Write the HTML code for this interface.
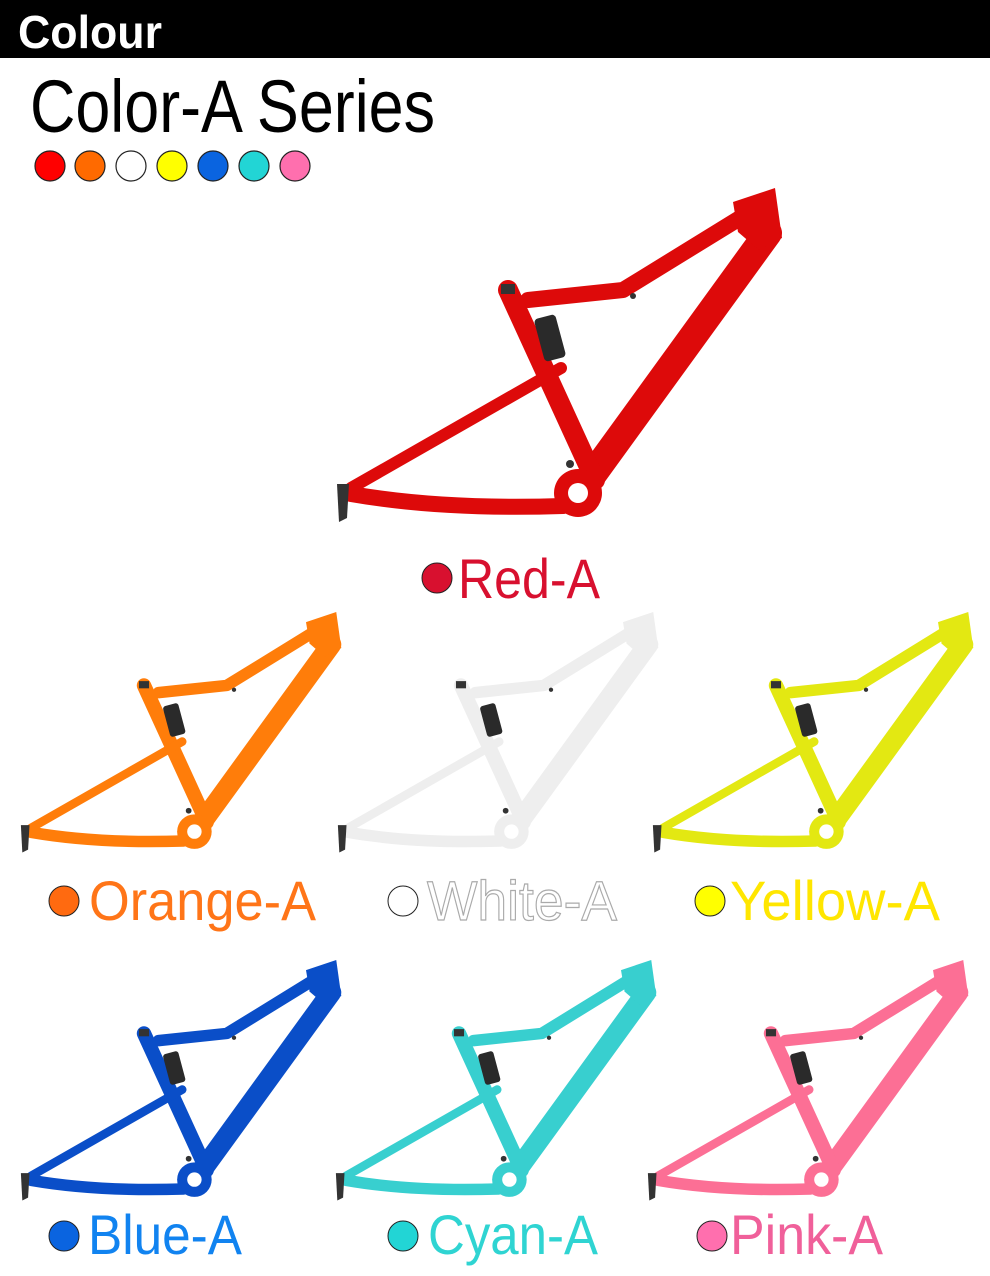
<!DOCTYPE html>
<html><head><meta charset="utf-8"><style>
body{margin:0;background:#fff;}
#root{position:relative;width:990px;height:1276px;overflow:hidden;font-family:"Liberation Sans",sans-serif;}
</style></head><body>
<div id="root">
<svg width="990" height="1276" viewBox="0 0 990 1276" xmlns="http://www.w3.org/2000/svg">
<defs>
<g id="frame">
  <g stroke="currentColor" fill="none" stroke-linecap="round" stroke-linejoin="round">
    <path d="M435 45 L250 300" stroke-width="28"/>
    <path d="M420 22 L290 102 L195 112" stroke-width="16"/>
    <path d="M175 102 L262 292" stroke-width="20"/>
    <path d="M228 180 L18 300" stroke-width="12"/>
    <path d="M18 306 Q110 322 230 318" stroke-width="16"/>
  </g>
  <polygon points="400,14 442,0 449,50 426,62 405,44" fill="currentColor"/>
  <circle cx="245" cy="305" r="24" fill="currentColor"/>
  <circle cx="245" cy="305" r="10" fill="#fff"/>
  <rect x="168" y="96" width="14" height="10" fill="#333"/>
  <rect x="206" y="128" width="22" height="44" rx="4" fill="#2a2a2a" transform="rotate(-15 217 150)"/>
  <path d="M4 296 L16 296 L14 330 L6 334 Z" fill="#333"/>
  <circle cx="237" cy="276" r="4" fill="#333"/>
  <circle cx="300" cy="108" r="3" fill="#333"/>
</g>
</defs>
<rect x="0" y="0" width="990" height="58" fill="#000"/>
<text x="18" y="48" font-size="46" font-weight="bold" fill="#fff" textLength="144" lengthAdjust="spacingAndGlyphs">Colour</text>
<text x="30" y="132" font-size="74" fill="#000" textLength="405" lengthAdjust="spacingAndGlyphs">Color-A Series</text>
<g stroke="#222" stroke-width="1.2">
<circle cx="50" cy="166" r="15" fill="#ff0000"/>
<circle cx="90" cy="166" r="15" fill="#ff6a00"/>
<circle cx="131" cy="166" r="15" fill="#fff"/>
<circle cx="172" cy="166" r="15" fill="#ffff00"/>
<circle cx="213" cy="166" r="15" fill="#0a64e0"/>
<circle cx="254" cy="166" r="15" fill="#22d5d5"/>
<circle cx="295" cy="166" r="15" fill="#ff6fae"/>
</g>
<use href="#frame" transform="translate(333,188)" style="color:#dd0a0a"/>
<use href="#frame" transform="translate(18,612) scale(0.72)" style="color:#ff7d0a"/>
<use href="#frame" transform="translate(335,612) scale(0.72)" style="color:#eeeeee"/>
<use href="#frame" transform="translate(650,612) scale(0.72)" style="color:#e3e812"/>
<use href="#frame" transform="translate(18,960) scale(0.72)" style="color:#0a4ec8"/>
<use href="#frame" transform="translate(333,960) scale(0.72)" style="color:#38cfcf"/>
<use href="#frame" transform="translate(645,960) scale(0.72)" style="color:#fc6f95"/>
<g font-size="56" stroke="#222" stroke-width="1" lengthAdjust="spacingAndGlyphs">
<circle cx="437" cy="578" r="15" fill="#d8102f"/>
<text x="458" y="598" fill="#d8102f" stroke="none" textLength="142" lengthAdjust="spacingAndGlyphs">Red-A</text>
<circle cx="64" cy="901" r="15" fill="#ff6a10"/>
<text x="89" y="920" fill="#ff7518" stroke="none" textLength="227" lengthAdjust="spacingAndGlyphs">Orange-A</text>
<circle cx="403" cy="901" r="15" fill="#fff"/>
<text x="427" y="920" fill="#fff" stroke="#aaa" stroke-width="1.2" textLength="190" lengthAdjust="spacingAndGlyphs">White-A</text>
<circle cx="710" cy="901" r="15" fill="#ffff00"/>
<text x="730" y="920" fill="#ffe600" stroke="none" textLength="210" lengthAdjust="spacingAndGlyphs">Yellow-A</text>
<circle cx="64" cy="1236" r="15" fill="#0a64e0"/>
<text x="88" y="1254" fill="#1183f0" stroke="none" textLength="154" lengthAdjust="spacingAndGlyphs">Blue-A</text>
<circle cx="403" cy="1236" r="15" fill="#22d5d5"/>
<text x="428" y="1254" fill="#2fd4d2" stroke="none" textLength="170" lengthAdjust="spacingAndGlyphs">Cyan-A</text>
<circle cx="712" cy="1236" r="15" fill="#ff6fae"/>
<text x="730" y="1254" fill="#f0609a" stroke="none" textLength="153" lengthAdjust="spacingAndGlyphs">Pink-A</text>
</g>
</svg>
</div>
</body></html>
